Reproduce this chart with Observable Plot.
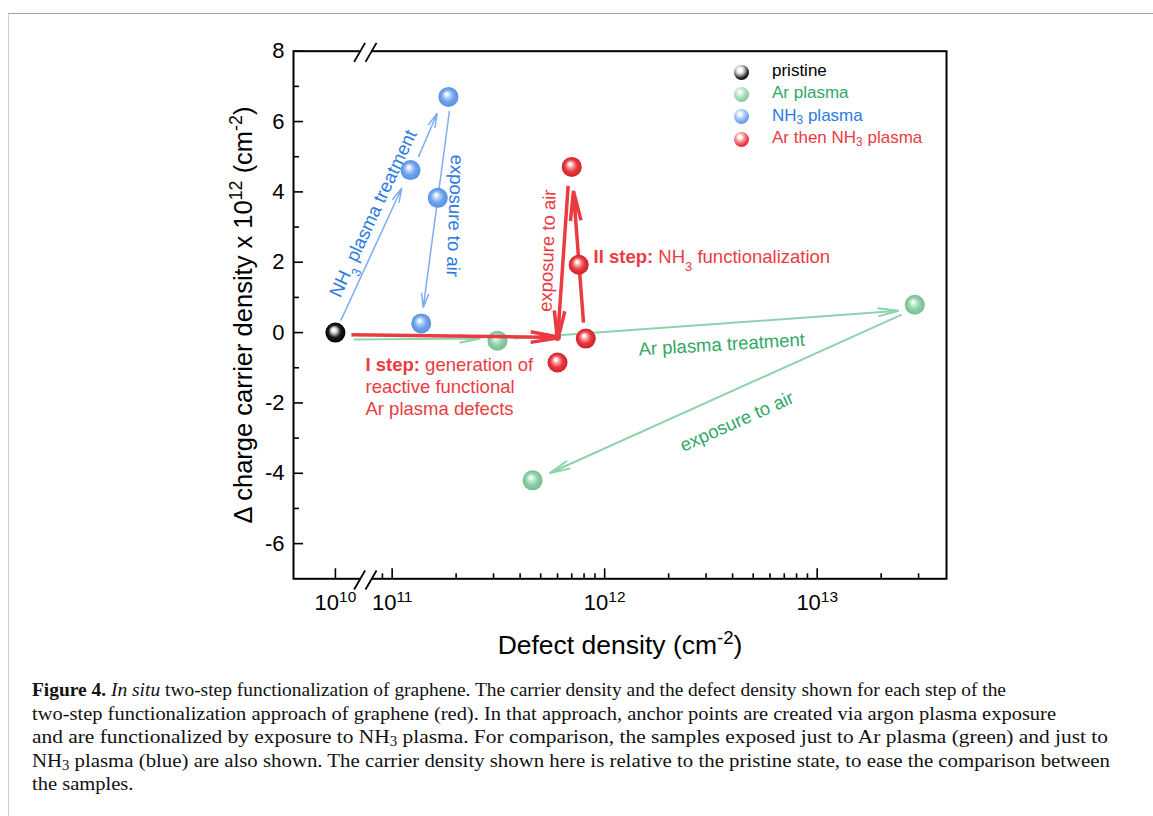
<!DOCTYPE html>
<html><head><meta charset="utf-8">
<script src="https://cdn.jsdelivr.net/npm/d3@7"></script>
<script src="https://cdn.jsdelivr.net/npm/@observablehq/plot@0.6"></script>
<style>
html,body{margin:0;padding:0;background:#fff;overflow:hidden;}
#page{position:relative;width:1153px;height:816px;overflow:hidden;background:#fff;}
#border{position:absolute;left:8px;top:13px;width:1150px;height:810px;border-top:1.5px solid #a3a3a3;border-left:1.5px solid #cfcfcf;}
#chart{position:absolute;left:0;top:0;}
#legend{position:absolute;left:0;top:0;font-family:"Liberation Sans",Arial,sans-serif;font-size:17px;}
.item{position:absolute;white-space:nowrap;line-height:20px;}
.ball{position:absolute;width:15px;height:15px;border-radius:50%;}
.item sub{font-size:70%;vertical-align:-0.25em;line-height:0;}
#caption{position:absolute;left:32px;top:678px;font-family:"Liberation Serif","Times New Roman",serif;font-size:19.5px;line-height:23.5px;color:#111;white-space:nowrap;}
#caption .ln{display:block;height:23.5px;}
#caption .ln span.fit{display:inline-block;transform-origin:0 50%;}
#caption sub{font-size:70%;vertical-align:-0.2em;line-height:0;}
</style></head>
<body>
<div id="page">
  <div id="border"></div>
  <div id="chart"></div>
  <div id="legend"></div>
  <div id="caption">
    <div class="ln"><span class="fit"><b>Figure 4.</b> <i>In situ</i> two-step functionalization of graphene. The carrier density and the defect density shown for each step of the</span></div>
    <div class="ln"><span class="fit">two-step functionalization approach of graphene (red). In that approach, anchor points are created via argon plasma exposure</span></div>
    <div class="ln"><span class="fit">and are functionalized by exposure to NH<sub>3</sub> plasma. For comparison, the samples exposed just to Ar plasma (green) and just to</span></div>
    <div class="ln"><span class="fit">NH<sub>3</sub> plasma (blue) are also shown. The carrier density shown here is relative to the pristine state, to ease the comparison between</span></div>
    <div class="ln"><span class="fit">the samples.</span></div>
  </div>
</div>
<script>
// ---------------- data ----------------
const pristineX = [1e10];
const pristineY = [0];
const arX = [3.13e11, 2.88e13, 4.58e11];
const arY = [-0.23, 0.79, -4.20];
const nh3X = [1.22e11, 1.84e11, 1.64e11, 1.37e11];
const nh3Y = [4.62, 6.70, 3.83, 0.26];
const arNh3X = [6.0e11, 8.15e11, 7.55e11, 7.0e11];
const arNh3Y = [-0.85, -0.17, 1.93, 4.71];

// arrows (start -> end), data units
const nh3ArrowX1 = [1.06e10, 1.33e11, 1.86e11];
const nh3ArrowY1 = [0.34, 4.99, 6.30];
const nh3ArrowX2 = [1.11e11, 1.63e11, 1.40e11];
const nh3ArrowY2 = [4.11, 6.24, 0.71];
const arArrowX1 = [1.22e10, 3.72e11, 2.50e13];
const arArrowY1 = [-0.20, -0.17, 0.51];
const arArrowX2 = [2.60e11, 2.42e13, 5.50e11];
const arArrowY2 = [-0.17, 0.62, -4.00];
const arNh3ArrowX1 = [1.19e10, 7.95e11, 6.73e11];
const arNh3ArrowY1 = [-0.06, 0.28, 4.17];
const arNh3ArrowX2 = [6.20e11, 7.13e11, 6.00e11];
const arNh3ArrowY2 = [-0.14, 4.03, -0.23];

// annotations
const noteText = [
  "NH_{3} plasma treatment",
  "exposure to air",
  "exposure to air",
  "*{II step:} NH_{3} functionalization",
  "*{I step:} generation of\nreactive functional\nAr plasma defects",
  "Ar plasma treatment",
  "exposure to air"
];
const noteX = [1.49e10, 1.995e11, 5.33e11, 8.87e11, 1.385e10, 3.55e12, 4.17e12];
const noteY = [3.40, 3.32, 2.33, 2.18, -1.515, -0.31, -2.50];
const noteGroup = ["nh3", "nh3", "arnh3", "arnh3", "arnh3", "ar", "ar"];

// axes
const xDomain = [6.35e9, 4.06e13];
const yDomain = [-7, 8];
const xMajor = [1e10, 1e11, 1e12, 1e13];
const xMajorLabels = ["10^{10}", "10^{11}", "10^{12}", "10^{13}"];
const xMinor = [9e10, 2e11, 3e11, 4e11, 5e11, 6e11, 7e11, 8e11, 9e11,
                2e12, 3e12, 4e12, 5e12, 6e12, 7e12, 8e12, 9e12, 2e13, 3e13];
const yMajor = [-6, -4, -2, 0, 2, 4, 6, 8];
const yMinor = [-5, -3, -1, 1, 3, 5, 7];
const xLabel = "Defect density (cm^{-2})";
const yLabel = "\u0394 charge carrier density x 10^{12} (cm^{-2})";
const legendLabels = ["pristine", "Ar plasma", "NH<sub>3</sub> plasma", "Ar then NH<sub>3</sub> plasma"];
const legendGroups = ["pristine", "ar", "nh3", "arnh3"];
const captionLineEnds = [1006, 1056, 1108, 1110];

// ---------------- styles ----------------
const style = {
  pristine: {text: "#000000", ball: "ballBlack", stops: ["#ffffff", "#cfcfcf", "#1c1c1c", "#000000"]},
  ar:       {text: "#31a866", line: "#8ed3ac", ball: "ballGreen", stops: ["#f4fbf7", "#c2e8d1", "#8ccfa6", "#72bf91"]},
  nh3:      {text: "#2b7be0", line: "#7eaef0", ball: "ballBlue", stops: ["#f3f8fe", "#b9d4f8", "#6ea4ec", "#5a90e2"]},
  arnh3:    {text: "#eb3b42", line: "#eb3b42", ball: "ballRed", stops: ["#ffffff", "#f7a3a5", "#eb373d", "#c8242a"]}
};

// broken log axis: left piece around 1e10, right piece from ~8e10
const xu = v => v < 3e10 ? Math.log10(v) - 10.267 : Math.log10(v) - 11;
const breakU = -0.123;
const FONT = '"Liberation Sans", Arial, Helvetica, sans-serif';

const slashSym = {draw(ctx) {
  ctx.moveTo(-11.9, 10.7); ctx.lineTo(-0.9, -8.3);
  ctx.moveTo(-0.5, 10.7); ctx.lineTo(10.5, -8.3);
}};
const gapSym = {draw(ctx) { ctx.moveTo(-5.2, 0); ctx.lineTo(5.2, 0); }};

const labelByU = new Map(xMajor.map((v, i) => [xu(v), xMajorLabels[i]]));

function defsMark() {
  const defs = d3.create("svg:defs");
  for (const k of Object.keys(style)) {
    const s = style[k];
    const g = defs.append("radialGradient").attr("id", s.ball)
      .attr("cx", "50%").attr("cy", "50%").attr("r", "50%").attr("fx", "40%").attr("fy", "34%");
    [[0, s.stops[0]], [0.12, s.stops[0]], [0.3, s.stops[1]], [0.62, s.stops[2]], [1, s.stops[3]]]
      .forEach(([o, c]) => g.append("stop").attr("offset", o).attr("stop-color", c));
  }
  return defs.node();
}

function arrows(X1, Y1, X2, Y2, s, sw, hl, ha) {
  return Plot.arrow(d3.range(X1.length), {
    x1: i => xu(X1[i]), y1: i => Y1[i], x2: i => xu(X2[i]), y2: i => Y2[i],
    stroke: s.line, strokeWidth: sw, headLength: hl, headAngle: ha, strokeLinecap: "butt"
  });
}
function balls(X, Y, s) {
  return Plot.dot(d3.range(X.length), {x: i => xu(X[i]), y: i => Y[i], r: 10, fill: `url(#${s.ball})`, stroke: "none"});
}

const noteStyle = [
  {rotate: -65, anchor: "middle", size: 18.5},
  {rotate: 92, anchor: "middle", size: 18.5},
  {rotate: -88, anchor: "middle", size: 18.5},
  {rotate: 0, anchor: "start", size: 18.5},
  {rotate: 0, anchor: "start", size: 18.5},
  {rotate: -3.4, anchor: "middle", size: 18.5},
  {rotate: -24, anchor: "middle", size: 18.5}
];
const noteMarks = noteText.map((t, i) => Plot.text([t], {
  x: () => xu(noteX[i]), y: () => noteY[i], text: d => d,
  fill: style[noteGroup[i]].text, rotate: noteStyle[i].rotate,
  textAnchor: noteStyle[i].anchor, lineAnchor: "middle", lineHeight: 1.2,
  fontSize: noteStyle[i].size
}));

const W = 1153, H = 660;
const plot = Plot.plot({
  width: W, height: H,
  marginLeft: 293, marginRight: 207, marginTop: 50.7, marginBottom: H - 578.3,
  x: {type: "linear", domain: xDomain.map(xu)},
  y: {domain: yDomain},
  style: {fontFamily: FONT, background: "transparent", overflow: "visible", color: "black"},
  marks: [
    defsMark,
    Plot.axisY({ticks: yMajor, tickSize: -10, fill: "none", label: null, strokeWidth: 1.6}),
    Plot.axisY({ticks: yMinor, tickSize: -6, fill: "none", label: null, strokeWidth: 1.6}),
    Plot.axisY({ticks: yMajor, tickSize: 0, tickPadding: 9, label: null, fontSize: 22, tickFormat: d => String(d)}),
    Plot.axisX({ticks: xMajor.map(xu), tickSize: -10, fill: "none", label: null, strokeWidth: 1.6}),
    Plot.axisX({ticks: xMinor.map(xu), tickSize: -5, fill: "none", label: null, strokeWidth: 1.6}),
    Plot.axisX({ticks: xMajor.map(xu), tickSize: 0, tickPadding: 16, label: null, fontSize: 22, tickFormat: u => labelByU.get(u)}),
    Plot.frame({stroke: "black", strokeWidth: 2}),
    Plot.dot(yDomain, {x: () => breakU, y: d => d, symbol: gapSym, stroke: "white", strokeWidth: 4, fill: "none"}),
    Plot.dot(yDomain, {x: () => breakU, y: d => d, symbol: slashSym, stroke: "black", strokeWidth: 1.8, fill: "none"}),
    arrows(arArrowX1, arArrowY1, arArrowX2, arArrowY2, style.ar, 2, 16, 22),
    arrows(nh3ArrowX1, nh3ArrowY1, nh3ArrowX2, nh3ArrowY2, style.nh3, 1.5, 15, 28),
    balls(arX, arY, style.ar),
    balls(nh3X, nh3Y, style.nh3),
    arrows(arNh3ArrowX1, arNh3ArrowY1, arNh3ArrowX2, arNh3ArrowY2, style.arnh3, 3.5, 13, 20),
    balls(arNh3X, arNh3Y, style.arnh3),
    balls(pristineX, pristineY, style.pristine),
    ...noteMarks,
    Plot.text([yLabel], {frameAnchor: "left", dx: -50, rotate: -90, text: d => d, textAnchor: "middle", lineAnchor: "middle", fontSize: 25.5}),
    Plot.text([xLabel], {frameAnchor: "bottom", dy: 67, text: d => d, textAnchor: "middle", lineAnchor: "middle", fontSize: 26.5})
  ]
});

// rich text: ^{sup}, _{sub}, *{bold}
function richify(node) {
  const s = node.textContent;
  if (!/[\^_*]\{/.test(s)) return;
  while (node.firstChild) node.removeChild(node.firstChild);
  for (const p of s.split(/([\^_*]\{[^}]*\})/)) {
    if (!p) continue;
    const t = document.createElementNS("http://www.w3.org/2000/svg", "tspan");
    const m = p.match(/^([\^_*])\{([^}]*)\}$/);
    if (m) {
      t.textContent = m[2];
      if (m[1] === "^") { t.setAttribute("baseline-shift", "super"); t.setAttribute("font-size", "70%"); }
      else if (m[1] === "_") { t.setAttribute("baseline-shift", "sub"); t.setAttribute("font-size", "70%"); }
      else t.setAttribute("font-weight", "bold");
    } else t.textContent = p;
    node.appendChild(t);
  }
}
const leaves = [];
plot.querySelectorAll("text").forEach(t => {
  const ts = t.querySelectorAll("tspan");
  if (ts.length) ts.forEach(x => leaves.push(x)); else leaves.push(t);
});
leaves.forEach(richify);
document.getElementById("chart").appendChild(plot);

// legend (HTML, inside the frame at top right)
const legend = document.getElementById("legend");
legendLabels.forEach((lab, i) => {
  const s = style[legendGroups[i]];
  const cy = 72 + i * 22.4;
  const ball = document.createElement("div");
  ball.className = "ball";
  ball.style.left = (741 - 7.5) + "px";
  ball.style.top = (cy - 7.5) + "px";
  ball.style.background = `radial-gradient(circle at 40% 34%, ${s.stops[0]} 0%, ${s.stops[0]} 12%, ${s.stops[1]} 30%, ${s.stops[2]} 62%, ${s.stops[3]} 100%)`;
  legend.appendChild(ball);
  const t = document.createElement("div");
  t.className = "item";
  t.style.left = "772px";
  t.style.top = (cy - 11) + "px";
  t.style.color = s.text;
  t.innerHTML = lab;
  legend.appendChild(t);
});

// fit caption lines to the reference line lengths
const spans = Array.from(document.querySelectorAll("#caption .fit"));
const scales = [];
spans.forEach((sp, i) => {
  if (i < captionLineEnds.length) {
    const w = sp.getBoundingClientRect().width;
    const k = (captionLineEnds[i] - 32) / w;
    scales.push(k);
    sp.style.transform = `scaleX(${k})`;
  }
});
const meanK = d3.mean(scales);
spans.slice(captionLineEnds.length).forEach(sp => sp.style.transform = `scaleX(${meanK})`);
</script>
</body></html>
